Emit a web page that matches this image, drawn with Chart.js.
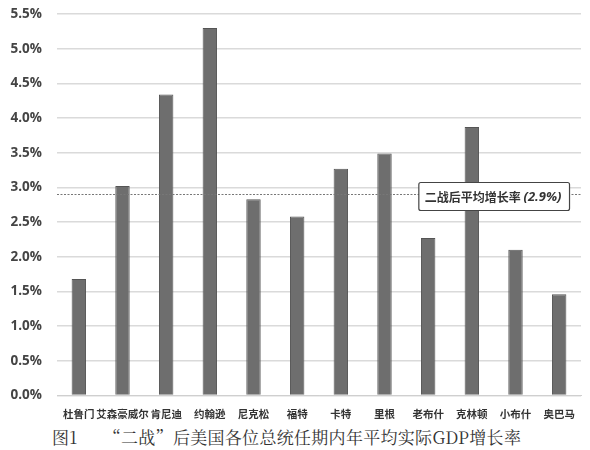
<!DOCTYPE html>
<html>
<head>
<meta charset="utf-8">
<script src="https://cdn.jsdelivr.net/npm/chart.js@4/dist/chart.umd.min.js"></script>
<style>
  html, body { margin: 0; padding: 0; background: #fff; overflow: hidden; }
  #wrap { width: 590px; height: 450px; position: relative; overflow: hidden; }
  #box { position: absolute; left: 0; top: -9px; width: 590px; height: 433px; }
  #caption {
    position: absolute; left: 52px; top: 424px;
    font-family: "Noto Serif CJK SC", "Noto Sans CJK SC", serif;
    font-size: 17px; letter-spacing: 0.3px; color: #333; white-space: pre;
  }
</style>
</head>
<body>
<div id="wrap">
  <div id="box"><canvas id="chart"></canvas></div>
  <div id="caption">图1　　“二战”后美国各位总统任期内年平均实际GDP增长率</div>
</div>
<script>
const presidents = ["杜鲁门", "艾森豪威尔", "肯尼迪", "约翰逊", "尼克松", "福特", "卡特", "里根", "老布什", "克林顿", "小布什", "奥巴马"];
const growth = [1.68, 3.02, 4.34, 5.30, 2.83, 2.58, 3.27, 3.49, 2.27, 3.87, 2.10, 1.46];
const average = 2.9;
const averageLabel = "二战后平均增长率 ";
const averageValue = "(2.9%)";

const avgLine = {
  id: "avgLine",
  afterDatasetsDraw(chart) {
    const { ctx, chartArea, scales } = chart;
    const y = Math.round(scales.y.getPixelForValue(average)) + 0.5;
    ctx.save();
    ctx.strokeStyle = "#777";
    ctx.lineWidth = 1;
    ctx.setLineDash([2, 1.5]);
    ctx.beginPath();
    ctx.moveTo(chartArea.left, y);
    ctx.lineTo(chartArea.right, y);
    ctx.stroke();
    ctx.setLineDash([]);

    // label box, anchored next to the 克林顿 bar
    const xc = scales.x.getPixelForValue(9);
    ctx.font = "bold 12px 'Noto Sans CJK SC'";
    const w1 = ctx.measureText(averageLabel).width;
    ctx.font = "italic bold 13px 'Open Sans'";
    const w2 = ctx.measureText(averageValue).width;
    const left = xc - 53, top = y - 12, h = 28, w = w1 + w2 + 14;
    ctx.fillStyle = "#fff";
    ctx.strokeStyle = "#444";
    ctx.lineWidth = 1.2;
    ctx.beginPath();
    ctx.roundRect(left, top, w, h, 2);
    ctx.fill();
    ctx.stroke();
    ctx.fillStyle = "#333";
    ctx.textBaseline = "middle";
    ctx.font = "bold 12px 'Noto Sans CJK SC'";
    ctx.fillText(averageLabel, left + 6, top + h / 2 + 1);
    ctx.font = "italic bold 13px 'Open Sans'";
    ctx.fillText(averageValue, left + 6 + w1, top + h / 2 + 1);
    ctx.restore();
  }
};

new Chart(document.getElementById("chart"), {
  type: "bar",
  data: {
    labels: presidents,
    datasets: [{
      data: growth,
      backgroundColor: "#6e6e6e",
      borderColor: "#555",
      borderWidth: 1,
      categoryPercentage: 1,
      barPercentage: 0.33
    }]
  },
  options: {
    responsive: true,
    maintainAspectRatio: false,
    animation: false,
    layout: { padding: { left: 7, right: 9, top: 4, bottom: 0 } },
    plugins: { legend: { display: false }, tooltip: { enabled: false } },
    scales: {
      x: {
        grid: { display: false },
        border: { color: "#cfcfcf" },
        ticks: {
          color: "#333",
          font: { family: "'Noto Sans CJK SC'", size: 10.5, weight: "bold" },
          maxRotation: 0, autoSkip: false, padding: 4
        }
      },
      y: {
        min: 0, max: 5.5,
        border: { display: false },
        grid: { color: "#dadada", lineWidth: 1.5, drawTicks: false },
        afterFit: scale => { scale.width = 50; },
        ticks: {
          stepSize: 0.5, padding: 15,
          color: "#444",
          font: { family: "'Open Sans'", size: 13.5, weight: "bold" },
          callback: v => v.toFixed(1) + "%"
        }
      }
    }
  },
  plugins: [avgLine]
});
</script>
</body>
</html>
